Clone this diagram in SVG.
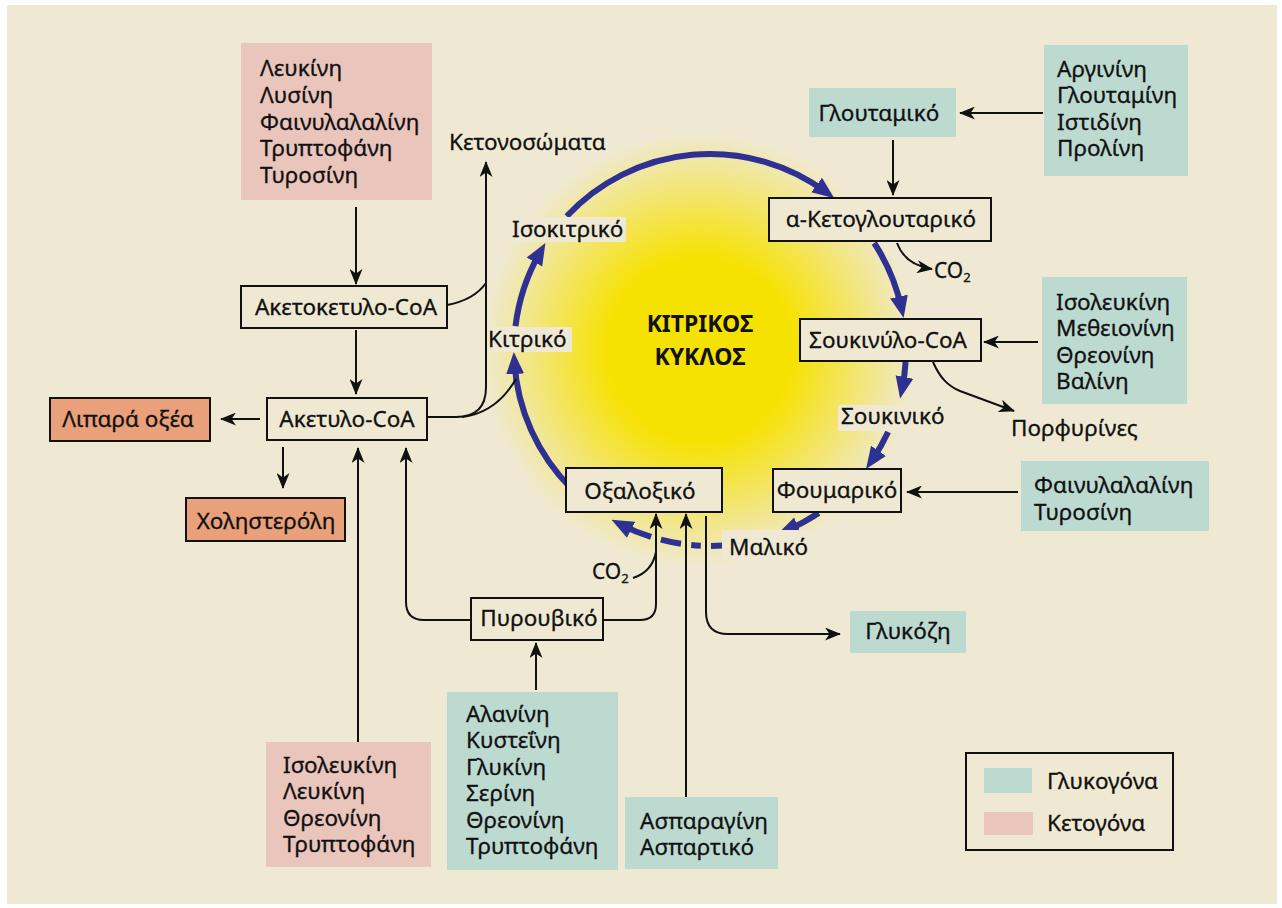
<svg xmlns="http://www.w3.org/2000/svg" width="1282" height="908" viewBox="0 0 1282 908">
<defs>
<style>
.box{fill:#efe9d3;stroke:#111;stroke-width:2}
.teal{fill:#bddad1}
.pink{fill:#eac5bc}
.salmon{fill:#e9a07b;stroke:#111;stroke-width:2}
.lbl{fill:#efe9d3}
text{font-family:"Noto Sans","Open Sans","DejaVu Sans",sans-serif;font-size:22.5px;fill:#111;stroke:#111;stroke-width:0.3}
.c{text-anchor:middle}
.title{font-weight:bold;font-size:23px;stroke-width:0}
.co{font-size:21px}
.sub{font-size:13px}
.cyc{fill:none;stroke:#2e3192;stroke-width:6;marker-end:url(#ah)}
.cyd{fill:none;stroke:#2e3192;stroke-width:6}
.ln{fill:none;stroke:#111;stroke-width:2}
.ar{marker-end:url(#bh)}
</style>
<radialGradient id="glow" gradientUnits="userSpaceOnUse" cx="700" cy="350" r="218">
<stop offset="0" stop-color="#f6e200"/>
<stop offset="0.42" stop-color="#f6e200"/>
<stop offset="0.72" stop-color="#f3e56e"/>
<stop offset="1" stop-color="#efe9d3"/>
</radialGradient>
<marker id="ah" markerUnits="userSpaceOnUse" viewBox="0 0 22 20" markerWidth="22" markerHeight="20" refX="12" refY="10" orient="auto">
<path d="M0,1 L22,10 L0,19 Z" fill="#2e3192"/>
</marker>
<marker id="bh" markerUnits="userSpaceOnUse" viewBox="0 0 16 13" markerWidth="16" markerHeight="13" refX="15" refY="6.5" orient="auto">
<path d="M0,0 L16,6.5 L0,13 L4.5,6.5 Z" fill="#111"/>
</marker>
</defs>
<rect x="0" y="0" width="1282" height="908" fill="#ffffff"/>
<rect x="7" y="5" width="1270" height="899" fill="#efe9d3"/>
<circle cx="700" cy="350" r="218" fill="url(#glow)"/>

<g id="cycle">
<path class="cyc" d="M566.7,216.3 A196,196 0 0 1 826.3,192.2"/>
<path class="cyc" d="M874.2,243 A196,196 0 0 1 901.5,308.3"/>
<path class="cyc" d="M905.6,362 A196,196 0 0 1 902.1,388.7"/>
<path class="cyc" d="M888.1,431.9 A196,196 0 0 1 871.7,460.7"/>
<path class="cyc" d="M818.7,513.1 A196,196 0 0 1 786.6,530.4"/>
<path class="cyd" d="M723.7,545.5 A196,196 0 0 1 711,546"/>
<path class="cyd" d="M700.8,545.8 A196,196 0 0 1 691.2,545.1"/>
<path class="cyd" d="M681,543.8 A196,196 0 0 1 660.9,539.7"/>
<path class="cyc" d="M651.1,536.9 A196,196 0 0 1 620.4,524.3"/>
<path class="cyc" d="M571.4,488.6 A196,196 0 0 1 514.4,362"/>
<path class="cyc" d="M515.5,326.1 A196,196 0 0 1 540.4,251.7"/>
</g>

<g id="connectors">
<path class="ln ar" d="M356,207 V284"/>
<path class="ln ar" d="M356,330 V394"/>
<path class="ln ar" d="M260,419 H221"/>
<path class="ln ar" d="M283,447 V488"/>
<path class="ln ar" d="M358,742 V448"/>
<path class="ln ar" d="M471,620 H424 Q406,620 406,602 V448"/>
<path class="ln ar" d="M427,417 H456 Q486,417 486,387 V162"/>
<path class="ln" d="M447,305 Q474,300 486,283"/>
<path class="ln" d="M462,417 Q496,413 516,379"/>
<path class="ln ar" d="M603,620 H640 Q656,620 656,604 V514"/>
<path class="ln" d="M633,578 Q652,572 656,552"/>
<path class="ln ar" d="M686,797 V514"/>
<path class="ln ar" d="M706,516 V612 Q706,634 728,634 H840"/>
<path class="ln ar" d="M536,690 V643"/>
<path class="ln ar" d="M1043,113 H960"/>
<path class="ln ar" d="M893,140 V195"/>
<path class="ln ar" d="M897,243 Q905,265 932,269"/>
<path class="ln ar" d="M1038,342 H984"/>
<path class="ln ar" d="M933,362 C940,378 948,386 960,391 L1014,411"/>
<path class="ln ar" d="M1018,492 H907"/>
</g>

<g id="labels">
<rect class="lbl" x="510" y="217" width="116" height="25"/>
<text x="512" y="237">Ισοκιτρικό</text>
<rect class="lbl" x="487" y="327" width="85" height="25"/>
<text x="488" y="347">Κιτρικό</text>
<rect class="lbl" x="838" y="405" width="110" height="26"/>
<text x="841" y="424">Σουκινικό</text>
<rect class="lbl" x="722" y="530" width="86" height="30"/>
<text x="729" y="555">Μαλικό</text>
<text class="c title" x="700" y="332">ΚΙΤΡΙΚΟΣ</text>
<text class="c title" x="700" y="365">ΚΥΚΛΟΣ</text>
<text x="449" y="150">Κετονοσώματα</text>
<text x="1011" y="436">Πορφυρίνες</text>
<text class="co" x="592" y="579">CO<tspan class="sub" dy="4">2</tspan></text>
<text class="co" x="934" y="278">CO<tspan class="sub" dy="4">2</tspan></text>
</g>

<g id="n-ketogenic-top">
<rect class="pink" x="241" y="43" width="191" height="157"/>
<text x="260" y="76">Λευκίνη</text>
<text x="260" y="103">Λυσίνη</text>
<text x="260" y="129.5">Φαινυλαλαλίνη</text>
<text x="260" y="156">Τρυπτοφάνη</text>
<text x="260" y="182.5">Τυροσίνη</text>
</g>
<g id="n-acetoacetyl">
<rect class="box" x="241" y="286" width="206" height="42"/>
<text class="c" x="346" y="315">Ακετοκετυλο-CoA</text>
</g>
<g id="n-acetyl">
<rect class="box" x="267" y="398" width="160" height="42"/>
<text class="c" x="347" y="427">Ακετυλο-CoA</text>
</g>
<g id="n-fatty">
<rect class="salmon" x="50" y="398" width="160" height="43"/>
<text class="c" x="128" y="427">Λιπαρά οξέα</text>
</g>
<g id="n-chol">
<rect class="salmon" x="186" y="498" width="159" height="43"/>
<text class="c" x="266" y="529">Χοληστερόλη</text>
</g>
<g id="n-oxalo">
<rect class="box" x="566" y="468" width="156" height="44"/>
<text class="c" x="640" y="499">Οξαλοξικό</text>
</g>
<g id="n-pyruvic">
<rect class="box" x="471" y="598" width="132" height="42"/>
<text class="c" x="539" y="626">Πυρουβικό</text>
</g>
<g id="n-glucose">
<rect class="teal" x="850" y="611" width="116" height="42"/>
<text class="c" x="908" y="639">Γλυκόζη</text>
</g>
<g id="n-fumaric">
<rect class="box" x="773" y="469" width="128" height="43"/>
<text class="c" x="837" y="498">Φουμαρικό</text>
</g>
<g id="n-succinyl">
<rect class="box" x="800" y="319" width="181" height="42"/>
<text class="c" x="888" y="348">Σουκινύλο-CoA</text>
</g>
<g id="n-aketo">
<rect class="box" x="769" y="198" width="222" height="43"/>
<text class="c" x="881" y="227">α-Κετογλουταρικό</text>
</g>
<g id="n-glutamate">
<rect class="teal" x="809" y="88" width="147" height="49"/>
<text class="c" x="879" y="121">Γλουταμικό</text>
</g>
<g id="n-arg">
<rect class="teal" x="1044" y="45" width="144" height="131"/>
<text x="1057" y="76.5">Αργινίνη</text>
<text x="1057" y="103">Γλουταμίνη</text>
<text x="1057" y="129.5">Ιστιδίνη</text>
<text x="1057" y="156">Προλίνη</text>
</g>
<g id="n-ile">
<rect class="teal" x="1042" y="277" width="145" height="127"/>
<text x="1056" y="309.5">Ισολευκίνη</text>
<text x="1056" y="336">Μεθειονίνη</text>
<text x="1056" y="362.5">Θρεονίνη</text>
<text x="1056" y="389">Βαλίνη</text>
</g>
<g id="n-phe">
<rect class="teal" x="1021" y="461" width="188" height="70"/>
<text x="1034" y="493">Φαινυλαλαλίνη</text>
<text x="1034" y="519.5">Τυροσίνη</text>
</g>
<g id="n-ketogenic-bottom">
<rect class="pink" x="266" y="742" width="165" height="125"/>
<text x="283" y="772.5">Ισολευκίνη</text>
<text x="283" y="799">Λευκίνη</text>
<text x="283" y="825.5">Θρεονίνη</text>
<text x="283" y="852">Τρυπτοφάνη</text>
</g>
<g id="n-ala">
<rect class="teal" x="447" y="692" width="171" height="178"/>
<text x="466" y="721.5">Αλανίνη</text>
<text x="466" y="748">Κυστεΐνη</text>
<text x="466" y="774.5">Γλυκίνη</text>
<text x="466" y="801">Σερίνη</text>
<text x="466" y="827.5">Θρεονίνη</text>
<text x="466" y="854">Τρυπτοφάνη</text>
</g>
<g id="n-asn">
<rect class="teal" x="625" y="797" width="153" height="72"/>
<text x="640" y="828.5">Ασπαραγίνη</text>
<text x="640" y="855">Ασπαρτικό</text>
</g>
<g id="legend">
<rect x="966" y="753" width="207" height="97" fill="none" stroke="#111" stroke-width="2"/>
<rect class="teal" x="984" y="768" width="48" height="25"/>
<rect class="pink" x="984" y="812" width="49" height="23"/>
<text x="1047" y="789">Γλυκογόνα</text>
<text x="1047" y="831">Κετογόνα</text>
</g>
</svg>
